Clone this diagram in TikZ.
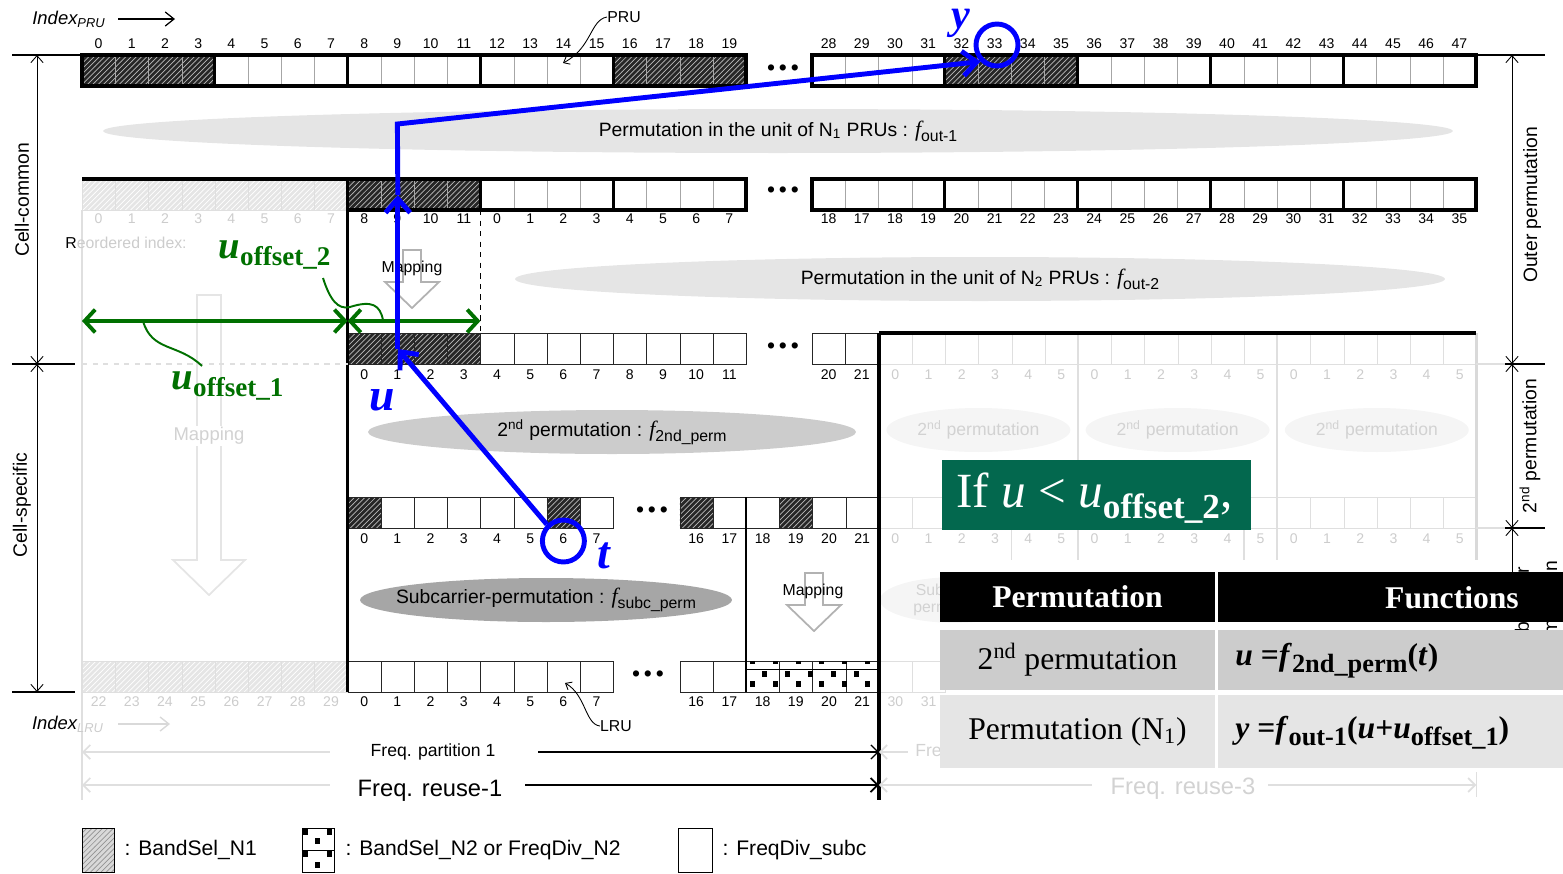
\documentclass[tikz,border=0pt]{standalone}
\usepackage{fontspec}
\setmainfont{Liberation Sans}
\newfontfamily\tnr{Liberation Serif}
\usetikzlibrary{positioning,patterns,shapes.geometric,arrows.meta}
\definecolor{offgreen}{RGB}{0,112,0}
\definecolor{condgreen}{RGB}{3,104,78}
\newcommand{\fsz}[1]{\fontsize{#1}{#1}\selectfont}
\newcommand{\lsub}[2]{\raisebox{-0.5ex}{\fsz{#1}#2}}
\newcommand{\ffun}[1]{{\tnr\itshape\fsz{12.5}f}\lsub{9}{#1}}
% hollow down arrow: x, top, head start, shaft half, head half, tip, style
\newcommand{\maparrow}[7]{%
  \draw[#7] ({#1-#4},#2) -- ({#1+#4},#2) -- ({#1+#4},#3) -- ({#1+#5},#3)
    -- (#1,#6) -- ({#1-#5},#3) -- ({#1-#4},#3) -- cycle;}

\begin{document}
\begin{tikzpicture}[x=0.02cm,y=-0.02cm,
    cell/.style={draw=gray!70, line width=0.5pt, minimum width=0.664cm, minimum height=0.62cm, inner sep=0pt, anchor=north west},
    bcell/.style={cell, draw=black!85},
    fcell/.style={cell, draw=gray!25},
    dark/.style={preaction={fill=black!85}, pattern=north east lines, pattern color=gray!55},
    lite/.style={preaction={fill=gray!20}, pattern=north east lines, pattern color=white},
    grp/.style={draw, line width=1.8pt},
    idx/.style={font=\fsz{8}, inner sep=0pt},
    fidx/.style={idx, text=gray!40},
    permcloud/.style={ellipse, inner sep=0pt, minimum height=0.88cm, font=\fsz{11}},
    cloudtext/.style={font=\fsz{11}, inner sep=0pt},
    fcloud/.style={permcloud, fill=gray!8, text=gray!35, minimum width=3.68cm, font=\fsz{10}},
    skipdots/.style={font=\fsz{13}, inner sep=0pt},
    bluearr/.style={draw=blue, line width=2.8pt, -{Straight Barb[length=8pt,width=14pt]}},
    greenarr/.style={draw=offgreen, line width=2.2pt, {Straight Barb[length=6pt,width=13pt]}-{Straight Barb[length=6pt,width=13pt]}},
    ring/.style={circle, draw=blue, line width=2.8pt, minimum size=0.84cm, inner sep=0pt},
    bluelab/.style={text=blue, font=\fsz{26}\tnr\bfseries\itshape, inner sep=0pt},
    offlab/.style={text=offgreen, font=\fsz{22}\tnr\bfseries\itshape, inner sep=0pt},
    dimline/.style={draw, line width=0.5pt, {Straight Barb[length=4pt,width=7pt]}-{Straight Barb[length=4pt,width=7pt]}},
    fadeline/.style={draw=gray!25, line width=1pt},
    maptext/.style={font=\fsz{9}, fill=white, inner sep=1pt},
    side/.style={rotate=90, font=\fsz{11}, inner sep=0pt},
    thead/.style={fill=black, text=white, font=\fsz{18}\tnr\bfseries, inner sep=0pt, minimum height=1cm},
    trow/.style={font=\fsz{18}\tnr, inner sep=0pt},
    legtext/.style={font=\fsz{12}, inner sep=0pt},
  ]
  \useasboundingbox (0,0) rectangle (1563,873);

  % faded frequency reuse-3 part
  \draw[gray!25, line width=1.6pt] (82,210) -- (82,800);
  \foreach \k in {0,...,17} {
    \pgfmathtruncatemacro\m{mod(\k,6)}
    \node[fcell] (x\k) at ({878.8+33.2*\k},333) {};
    \node[fcell] (z\k) at ({878.8+33.2*\k},497) {};
    \node[fidx] (xl\k) at ({895.4+33.2*\k},375) {\m};
    \node[fidx] (zl\k) at ({895.4+33.2*\k},539) {\m};
  }
  \foreach \x in {1078,1277.2} \draw[fadeline] (\x,333) -- (\x,560);
  \foreach \x in {1011.6,1244} \draw[fadeline] (\x,528) -- (\x,560);
  \draw[gray!30, line width=1.6pt] (1476.4,333) -- (1476.4,560);
  \node[fcloud] (fc1) at (978.4,430) {2\textsuperscript{nd} permutation};
  \node[fcloud] (fc2) at (1177.6,430) {2\textsuperscript{nd} permutation};
  \node[fcloud] (fc3) at (1376.8,430) {2\textsuperscript{nd} permutation};
  \node[fcloud, minimum width=3cm, align=center, font=\fontsize{9}{10}\selectfont] (fsub) at (955,600) {Subcarrier-\\permutation};
  \node[fcell] (y30) at (878.8,661) {};
  \node[fcell] (y31) at (912,661) {};
  \node[fidx] (yl30) at (895.4,702) {30};
  \node[fidx] (yl31) at (928.6,702) {31};

  % PRU row
  \node[font=\fsz{10.5}\itshape, inner sep=0pt] (ipru) at (69,19) {Index\textsubscript{PRU}};
  \draw[line width=0.7pt, -{Straight Barb[length=5pt,width=8pt]}] (118,19) -- (175,19);
  \path[dark] (82,55) rectangle (214.8,86);
  \path[dark] (613.2,55) rectangle (746,86);
  \path[dark] (944.8,55) rectangle (1077.6,86);
  \foreach \i in {0,...,19} {
    \node[cell] (p\i) at ({82+33.2*\i},55) {};
    \node[idx] (pl\i) at ({98.6+33.2*\i},44) {\i};
  }
  \foreach \i in {28,...,47} {
    \node[cell] (p\i) at ({812+33.2*(\i-28)},55) {};
    \node[idx] (pl\i) at ({828.6+33.2*(\i-28)},44) {\i};
  }
  \foreach \x in {82,214.8,347.6,480.4,613.2,812,944.8,1077.6,1210.4,1343.2}
    \draw[grp] (\x,55) rectangle +(132.8,31);
  \node[skipdots] (d1) at (783,70) {\textbullet\,\textbullet\,\textbullet};
  \node[font=\fsz{9}, inner sep=0pt] (prul) at (624,17) {PRU};
  \draw[line width=0.5pt, -{Straight Barb[length=3pt,width=5pt]}] (prul.west) .. controls (590,20) and (592,48) .. (563,63);

  \node[permcloud, fill=gray!20, minimum width=27cm] (e1) at (778,131) {};
  \node[cloudtext] (e1t) at (778,131) {Permutation in the unit of N\textsubscript{1} PRUs : \ffun{out-1}};

  % reordered row
  \path[lite] (82,179) rectangle (347.6,210);
  \foreach \i in {0,...,7} {
    \node[fcell] (q\i) at ({82+33.2*\i},179) {};
    \node[fidx] (ql\i) at ({98.6+33.2*\i},219) {\i};
  }
  \draw[line width=1.8pt] (82,179) -- (347.6,179);
  \path[dark] (347.6,179) rectangle (480.4,210);
  \foreach \l [count=\k from 0] in {8,9,10,11,0,1,2,3,4,5,6,7} {
    \node[cell] (r\k) at ({347.6+33.2*\k},179) {};
    \node[idx] (rl\k) at ({364.2+33.2*\k},219) {\l};
  }
  \foreach \l [count=\k from 0] in {18,17,18,19,20,21,22,23,24,25,26,27,28,29,30,31,32,33,34,35} {
    \node[cell] (rr\k) at ({812+33.2*\k},179) {};
    \node[idx] (rrl\k) at ({828.6+33.2*\k},219) {\l};
  }
  \foreach \x in {347.6,480.4,613.2,812,944.8,1077.6,1210.4,1343.2}
    \draw[grp] (\x,179) rectangle +(132.8,31);
  \node[skipdots] (d2) at (783,192) {\textbullet\,\textbullet\,\textbullet};
  \node[anchor=west, font=\fsz{9}, inner sep=0pt] (reord) at (65,243) {R\textcolor{gray!40}{eordered index:}};
  \draw[dashed, line width=0.6pt] (480.4,210) -- (480.4,333);

  \node[permcloud, fill=gray!20, minimum width=18.6cm] (e2) at (980,279) {};
  \node[cloudtext] (e2t) at (980,279) {Permutation in the unit of N\textsubscript{2} PRUs : \ffun{out-2}};

  % mapping arrows
  \maparrow{209}{295}{560}{12}{36}{595}{gray!20, line width=1pt}
  \node[maptext, font=\fsz{10.5}, text=gray!35] (fmap) at (209,436) {Mapping};
  \maparrow{412}{250}{282}{9}{27}{308}{gray!60, line width=1pt}
  \node[maptext, fill=none] (map1) at (412,268) {Mapping};

  % 2nd permutation output row
  \path[dark] (347.6,333) rectangle (480.4,364);
  \foreach \k in {0,...,11} {
    \node[bcell] (s\k) at ({347.6+33.2*\k},333) {};
    \node[idx] (sl\k) at ({364.2+33.2*\k},375) {\k};
  }
  \node[bcell] (s20) at (812,333) {};
  \node[bcell] (s21) at (845.2,333) {};
  \node[idx] (sl20) at (828.6,375) {20};
  \node[idx] (sl21) at (861.8,375) {21};
  \node[skipdots] (d3) at (783,348) {\textbullet\,\textbullet\,\textbullet};
  \draw[line width=2pt] (878.8,333) -- (1476.4,333);

  \node[permcloud, fill=gray!40, minimum width=9.76cm] (e3) at (612,432) {};
  \node[cloudtext] (e3t) at (612,432) {2\textsuperscript{nd} permutation : \ffun{2nd\_perm}};

  % 2nd permutation input row
  \path[dark] (347.6,497) rectangle +(33.2,31);
  \path[dark] (546.8,497) rectangle +(33.2,31);
  \path[dark] (679.6,497) rectangle +(33.2,31);
  \path[dark] (779.2,497) rectangle +(33.2,31);
  \foreach \k in {0,...,7} {
    \node[bcell] (t\k) at ({347.6+33.2*\k},497) {};
    \node[idx] (tl\k) at ({364.2+33.2*\k},539) {\k};
  }
  \foreach \k in {16,...,21} {
    \node[bcell] (t\k) at ({679.6+33.2*(\k-16)},497) {};
    \node[idx] (tl\k) at ({696.2+33.2*(\k-16)},539) {\k};
  }
  \node[skipdots] (d4) at (652,512) {\textbullet\,\textbullet\,\textbullet};

  \node[permcloud, fill=gray!70, minimum width=7.44cm] (e4) at (546,600) {};
  \node[cloudtext] (e4t) at (546,600) {Subcarrier-permutation : \ffun{subc\_perm}};
  \maparrow{814}{573}{605}{9}{27}{631}{gray!60, line width=1pt}
  \node[maptext, fill=none] (map2) at (813,591) {Mapping};

  % LRU row
  \path[lite] (82,661) rectangle (347.6,692);
  \foreach \l [count=\k from 0] in {22,...,29} {
    \node[fcell] (v\l) at ({82+33.2*\k},661) {};
    \node[fidx] (vl\l) at ({98.6+33.2*\k},702) {\l};
  }
  \foreach \k in {0,...,7} {
    \node[bcell] (w\k) at ({347.6+33.2*\k},661) {};
    \node[idx] (wl\k) at ({364.2+33.2*\k},702) {\k};
  }
  \foreach \k in {16,...,21} {
    \node[bcell] (w\k) at ({679.6+33.2*(\k-16)},661) {};
    \node[idx] (wl\k) at ({696.2+33.2*(\k-16)},702) {\k};
  }
  \draw[line width=0.5pt] (746,669) -- (878.8,669);
  \foreach \x in {0,...,5} {
    \fill ({750+23*\x},661) rectangle +(5,3);
    \fill ({750+23*\x},681) rectangle +(5,6);
  }
  \foreach \x in {0,...,4} \fill ({762+23*\x},671) rectangle +(5,6);
  \node[skipdots] (d5) at (648,676) {\textbullet\,\textbullet\,\textbullet};
  \node[font=\fsz{9}, inner sep=0pt] (lrul) at (616,726) {LRU};
  \draw[line width=0.5pt, -{Straight Barb[length=3pt,width=5pt]}] (lrul.west) .. controls (585,724) and (586,695) .. (565,683);
  \node[font=\fsz{10.5}\itshape, inner sep=0pt] (ilru) at (68,724) {Index\textsubscript{\textcolor{gray!40}{LRU}}};
  \draw[gray!30, line width=0.8pt, -{Straight Barb[length=5pt,width=8pt]}] (118,724) -- (170,724);

  % frame lines
  \draw[line width=1.8pt] (347.6,179) -- (347.6,692);
  \draw[line width=2pt] (878.8,333) -- (878.8,800);
  \draw[line width=1pt] (746,497) -- (746,692);

  % cell-common / cell-specific
  \draw[line width=0.6pt] (12,55) -- (82,55);
  \draw[line width=1pt] (12,364) -- (75,364);
  \draw[line width=1.2pt] (12,692) -- (75,692);
  \draw[fadeline, dashed] (82,364) -- (347.6,364);
  \draw[dimline] (37,55) -- (37,364);
  \draw[dimline] (37,364) -- (37,692);
  \node[side] (cc) at (22,200) {Cell-common};
  \node[side] (cs) at (22,505) {Cell-specific};

  % outer / 2nd / subcarrier permutation
  \draw[line width=0.6pt] (1476.4,55) -- (1545,55);
  \draw[fadeline] (1476.4,364) -- (1505,364);
  \draw[line width=1pt] (1505,364) -- (1545,364);
  \draw[fadeline] (1476.4,528) -- (1505,528);
  \draw[line width=1pt] (1505,528) -- (1545,528);
  \draw[dimline] (1512,55) -- (1512,364);
  \draw[dimline] (1512,364) -- (1512,528);
  \draw[line width=0.5pt, {Straight Barb[length=4pt,width=7pt]}-] (1512,528) -- (1512,620);
  \node[side] (outp) at (1532,205) {Outer permutation};
  \node[side] (secp) at (1530,446) {2\textsuperscript{nd} permutation};
  \node[side, align=center, font=\fontsize{11}{16}\selectfont] (subp) at (1538,612) {Subcarrier\\permutation};

  % frequency partition / reuse
  \node[font=\fsz{10}, inner sep=0pt] (fpart) at (433,752) {Freq. partition 1};
  \draw[gray!25, line width=1pt, {Straight Barb[length=4pt,width=8pt]}-] (82,752) -- (330,752);
  \draw[line width=0.7pt, -{Straight Barb[length=4pt,width=8pt]}] (538,752) -- (878.8,752);
  \draw[gray!25, line width=1pt, {Straight Barb[length=4pt,width=8pt]}-] (878.8,752) -- (908,752);
  \node[font=\fsz{10}, text=gray!35, anchor=west, inner sep=0pt] (fpart2) at (915,752) {Freq. partition 2};
  \node[font=\fsz{13.5}, inner sep=0pt] (freu1) at (430,791) {Freq. reuse-1};
  \draw[gray!25, line width=1pt, {Straight Barb[length=4pt,width=8pt]}-] (82,785) -- (330,785);
  \draw[line width=1pt, -{Straight Barb[length=4pt,width=8pt]}] (525,785) -- (878.8,785);
  \node[font=\fsz{13.5}, text=gray!35, inner sep=0pt] (freu3) at (1183,789) {Freq. reuse-3};
  \draw[gray!25, line width=1pt, {Straight Barb[length=4pt,width=8pt]}-] (878.8,785) -- (1092,785);
  \draw[gray!25, line width=1pt, -{Straight Barb[length=4pt,width=8pt]}] (1268,785) -- (1476.4,785);
  \draw[gray!25, line width=1pt] (1476.4,772) -- (1476.4,797);

  % offsets
  \coordinate (o0) at (82,321);
  \coordinate (o1) at (347.6,321);
  \coordinate (o2) at (480.4,321);
  \draw[greenarr] (o0) -- (o1);
  \draw[greenarr] (o1) -- (o2);
  \node[offlab] (off1) at (228,386) {u\textsubscript{\upshape offset\_1}};
  \node[offlab] (off2) at (275,255) {u\textsubscript{\upshape offset\_2}};
  \draw[offgreen, line width=1.1pt] (143,321) .. controls (152,352) and (178,343) .. (202,366);
  \draw[offgreen, line width=1.1pt] (323,278) .. controls (330,300) and (338,310) .. (350,307)
    .. controls (372,300) and (380,305) .. (383,320);

  % index mapping t -> u -> y
  \node[ring] (ringt) at (563.4,541) {};
  \node[ring] (ringy) at (997,45) {};
  \coordinate (bend) at (397.4,124);
  \draw[bluearr] (ringt.north west) -- (s1.center);
  \draw[bluearr] (s1.center) -- (r1.center);
  \draw[bluearr] (r1.center) -- (bend) -- (ringy.south west);
  \node[bluelab] (lu) at (382,400) {u};
  \node[bluelab] (lt) at (604,556) {t};
  \node[bluelab, font=\fsz{24}\tnr\bfseries\itshape] (ly) at (961,23) {y};

  % condition and table
  \node[anchor=north west, fill=condgreen, minimum width=6.18cm, minimum height=1.4cm] (cond) at (942,460) {};
  \node[anchor=west, text=white, font=\fsz{28}\tnr, inner sep=0pt] (condt) at (956,498)
    {If \textit{u} < \textit{u}\lsub{20}{\bfseries offset\_2},};
  \node[thead, minimum width=5.5cm] (th1) at (1077.5,597) {Permutation};
  \node[thead, minimum width=7.64cm] (th2) at (1409,597) {};
  \node[thead, fill=none] (th2t) at (1452,598) {Functions};
  \node[trow, fill=gray!40, minimum width=5.5cm, minimum height=1.2cm] (ta1) at (1077.5,660) {2\textsuperscript{nd} permutation};
  \node[trow, fill=gray!40, minimum width=7.64cm, minimum height=1.2cm] (ta2) at (1409,660) {};
  \node[trow, anchor=west, font=\fsz{18}\tnr\bfseries] (ta2t) at (1235,661)
    {\textit{u} =\textit{f}\lsub{15}{2nd\_perm}(\textit{t})};
  \node[trow, fill=gray!20, minimum width=5.5cm, minimum height=1.46cm] (tb1) at (1077.5,731.5) {Permutation (N\textsubscript{1})};
  \node[trow, fill=gray!20, minimum width=7.64cm, minimum height=1.46cm] (tb2) at (1409,731.5) {};
  \node[trow, anchor=west, font=\fsz{18}\tnr\bfseries] (tb2t) at (1235,733)
    {\textit{y} =\textit{f}\lsub{15}{out-1}(\textit{u}+\textit{u}\lsub{15}{offset\_1})};

  % legend
  \node[draw, minimum width=0.64cm, minimum height=0.88cm, inner sep=0pt, preaction={fill=gray!30},
    pattern=north east lines, pattern color=gray!85] (lg1) at (98,850) {};
  \node[legtext, right=0.2cm of lg1] (lt1) {: BandSel\_N1};
  \node[draw, minimum width=0.64cm, minimum height=0.88cm, inner sep=0pt] (lg2) at (318,850) {};
  \draw[line width=0.5pt] (lg2.west) -- (lg2.east);
  \foreach \x/\y in {303/829,327/829,315/838,303/851,327/851,315/862} \fill (\x,\y) rectangle +(5,6);
  \node[legtext, right=0.22cm of lg2] (lt2) {: BandSel\_N2 or FreqDiv\_N2};
  \node[draw, minimum width=0.68cm, minimum height=0.88cm, inner sep=0pt] (lg3) at (695,850) {};
  \node[legtext, right=0.2cm of lg3] (lt3) {: FreqDiv\_subc};
\end{tikzpicture}
\end{document}
